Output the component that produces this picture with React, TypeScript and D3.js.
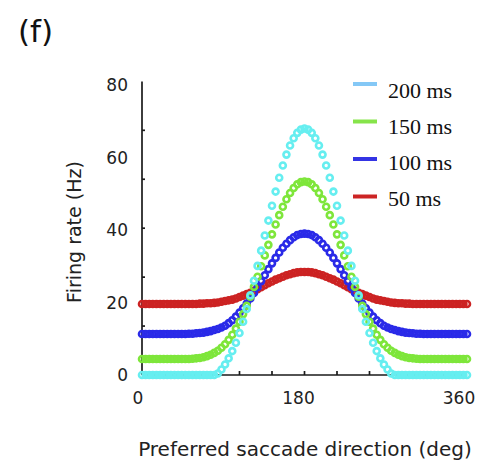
import React from "react";
import * as d3 from "d3";

// Preferred saccade direction (deg), sampled every 4 deg
const directions = [
  0, 4, 8, 12, 16, 20, 24, 28, 32, 36, 40, 44, 48, 52, 56, 60, 64, 68, 72, 76,
  80, 84, 88, 92, 96, 100, 104, 108, 112, 116, 120, 124, 128, 132, 136, 140,
  144, 148, 152, 156, 160, 164, 168, 172, 176, 180, 184, 188, 192, 196, 200,
  204, 208, 212, 216, 220, 224, 228, 232, 236, 240, 244, 248, 252, 256, 260,
  264, 268, 272, 276, 280, 284, 288, 292, 296, 300, 304, 308, 312, 316, 320,
  324, 328, 332, 336, 340, 344, 348, 352, 356, 360,
];

// Population firing rate (Hz) at each direction, per time after onset
const rate200 = [
  0, 0, 0, 0, 0, 0, 0, 0, 0, 0, 0, 0, 0, 0, 0, 0, 0, 0, 0, 0, 0,
  0.4, 1.5, 2.9, 4.6, 6.6, 8.9, 11.6, 14.7, 18.2, 22.0, 26.0, 30.1, 34.3,
  38.5, 42.6, 46.7, 50.6, 54.4, 57.8, 60.8, 63.3, 65.3, 66.8, 67.7,
  68.0,
  67.7, 66.8, 65.3, 63.3, 60.8, 57.8, 54.4, 50.6, 46.7, 42.6, 38.5, 34.3,
  30.1, 26.0, 22.0, 18.2, 14.7, 11.6, 8.9, 6.6, 4.6, 2.9, 1.5, 0.4,
  0, 0, 0, 0, 0, 0, 0, 0, 0, 0, 0, 0, 0, 0, 0, 0, 0, 0, 0, 0, 0,
];

const rate150 = [
  4.4, 4.4, 4.4, 4.4, 4.4, 4.4, 4.4, 4.4, 4.4, 4.4, 4.4, 4.4, 4.4, 4.4,
  4.5, 4.6, 4.7, 4.9, 5.2, 5.6, 6.1, 6.7, 7.5, 8.5,
  9.7, 11.1, 12.8, 14.7, 16.8, 19.1, 21.6, 24.3, 27.1, 30.0,
  33.0, 35.9, 38.8, 41.5, 44.1, 46.4, 48.5, 50.2, 51.6, 52.6, 53.2,
  53.4,
  53.2, 52.6, 51.6, 50.2, 48.5, 46.4, 44.1, 41.5, 38.8, 35.9, 33.0,
  30.0, 27.1, 24.3, 21.6, 19.1, 16.8, 14.7, 12.8, 11.1, 9.7,
  8.5, 7.5, 6.7, 6.1, 5.6, 5.2, 4.9, 4.7, 4.6, 4.5,
  4.4, 4.4, 4.4, 4.4, 4.4, 4.4, 4.4, 4.4, 4.4, 4.4, 4.4, 4.4, 4.4, 4.4,
];

const rate100 = [
  11.3, 11.3, 11.3, 11.3, 11.3, 11.3, 11.3, 11.3, 11.3, 11.3, 11.3, 11.3, 11.3,
  11.4, 11.4, 11.5, 11.6, 11.7, 11.9, 12.1, 12.4, 12.7, 13.1,
  13.6, 14.3, 15.1, 16.1, 17.2, 18.4, 19.7, 21.1, 22.6, 24.2,
  25.9, 27.5, 29.2, 30.8, 32.3, 33.8, 35.1, 36.2, 37.2, 38.0, 38.6, 38.9,
  39.0,
  38.9, 38.6, 38.0, 37.2, 36.2, 35.1, 33.8, 32.3, 30.8, 29.2, 27.5, 25.9,
  24.2, 22.6, 21.1, 19.7, 18.4, 17.2, 16.1, 15.1, 14.3, 13.6,
  13.1, 12.7, 12.4, 12.1, 11.9, 11.7, 11.6, 11.5, 11.4, 11.4,
  11.3, 11.3, 11.3, 11.3, 11.3, 11.3, 11.3, 11.3, 11.3, 11.3, 11.3, 11.3, 11.3,
];

const rate50 = [
  19.6, 19.6, 19.6, 19.6, 19.6, 19.6, 19.6, 19.6, 19.6, 19.6, 19.6, 19.6,
  19.6, 19.6, 19.6, 19.6,
  19.7, 19.7, 19.8, 19.8, 19.9, 20.0, 20.2, 20.4, 20.6, 20.8,
  21.1, 21.5, 21.9, 22.3, 22.7, 23.2, 23.7, 24.2, 24.8, 25.3,
  25.8, 26.3, 26.7, 27.1, 27.5, 27.8, 28.1, 28.3, 28.4,
  28.4,
  28.4, 28.3, 28.1, 27.8, 27.5, 27.1, 26.7, 26.3, 25.8,
  25.3, 24.8, 24.2, 23.7, 23.2, 22.7, 22.3, 21.9, 21.5, 21.1,
  20.8, 20.6, 20.4, 20.2, 20.0, 19.9, 19.8, 19.8, 19.7, 19.7,
  19.6, 19.6, 19.6, 19.6, 19.6, 19.6, 19.6, 19.6, 19.6, 19.6, 19.6, 19.6,
  19.6, 19.6, 19.6, 19.6,
];

// Drawing order: earliest window underneath, latest on top
const seriesNames = ["50 ms", "100 ms", "150 ms", "200 ms"];
const seriesValues = [rate50, rate100, rate150, rate200];
const markerColors = ["#cc2222", "#2a2ae8", "#7ee63a", "#66eef0"];

// Legend, listed top to bottom
const legendLabels = ["200 ms", "150 ms", "100 ms", "50 ms"];
const legendColors = ["#84c8f6", "#86e44a", "#3434e4", "#cc2424"];

const xTickLabels = [0, 180, 360];
const xMinorTicks = [36, 72, 108, 144, 180, 216, 252, 288, 324];
const yTickLabels = [0, 20, 40, 60, 80];
const yMinorTicks = [13.5, 27, 40.5, 54, 67.5];

const W = 492;
const H = 466;

export default function App() {
  const x = d3.scaleLinear().domain([0, 360]).range([142, 467]);
  const xLabel = d3.scaleLinear().domain([0, 360]).range([138, 459]);
  const y = d3.scaleLinear().domain([0, 80]).range([375, 85]);
  const axisColor = "#1a1a1a";
  const sans = "'DejaVu Sans', Verdana, sans-serif";

  return (
    <svg
      width={W}
      height={H}
      viewBox={`0 0 ${W} ${H}`}
      style={{ position: "absolute", left: 0, top: 0, background: "#fff" }}
    >
      <defs>
        <filter id="soft" x="-5%" y="-5%" width="110%" height="110%">
          <feGaussianBlur stdDeviation="0.45" />
        </filter>
      </defs>

      <text x={18} y={42} fontFamily={sans} fontSize={31} fill="#111">
        (f)
      </text>

      {/* axes */}
      <line x1={x(0)} x2={x(0)} y1={y(0)} y2={y(81)} stroke={axisColor} strokeWidth={1.7} />
      <line x1={x(0)} x2={x(360)} y1={y(0)} y2={y(0)} stroke={axisColor} strokeWidth={1.7} />
      {yMinorTicks.map((v) => (
        <line key={"yt" + v} x1={x(0)} x2={x(0) + 3} y1={y(v)} y2={y(v)} stroke={axisColor} strokeWidth={1.7} />
      ))}
      {xMinorTicks.map((v) => (
        <line key={"xt" + v} x1={x(v)} x2={x(v)} y1={y(0)} y2={y(0) - 4} stroke={axisColor} strokeWidth={1.7} />
      ))}

      {/* tick labels */}
      {yTickLabels.map((v) => (
        <text key={"yl" + v} x={128} y={y(v)} dy="0.36em" textAnchor="end" fontFamily={sans} fontSize={17} fill="#222">
          {v}
        </text>
      ))}
      {xTickLabels.map((v) => (
        <text key={"xl" + v} x={xLabel(v)} y={404} textAnchor="middle" fontFamily={sans} fontSize={17} fill="#222">
          {v}
        </text>
      ))}

      {/* axis titles */}
      <text
        transform={`translate(81,232) rotate(-90)`}
        textAnchor="middle"
        fontFamily={sans}
        fontSize={19}
        fill="#222"
      >
        Firing rate (Hz)
      </text>
      <text x={305} y={456} textAnchor="middle" fontFamily={sans} fontSize={20} fill="#222">
        Preferred saccade direction (deg)
      </text>

      {/* tuning curves as open circles */}
      <g filter="url(#soft)">
        {seriesValues.map((vals, s) => (
          <g key={seriesNames[s]} fill="none" stroke={markerColors[s]} strokeWidth={2.6}>
            {vals.map((v, i) => (
              <circle key={i} cx={x(directions[i])} cy={y(v)} r={3.0} />
            ))}
          </g>
        ))}
      </g>

      {/* legend */}
      {legendLabels.map((lab, i) => (
        <g key={lab}>
          <line x1={353} x2={377} y1={84 + i * 37.5} y2={84 + i * 37.5} stroke={legendColors[i]} strokeWidth={4} />
          <text x={388} y={98 + i * 36} fontFamily="'Liberation Serif', 'Times New Roman', serif" fontSize={22} fill="#111">
            {lab}
          </text>
        </g>
      ))}
    </svg>
  );
}
